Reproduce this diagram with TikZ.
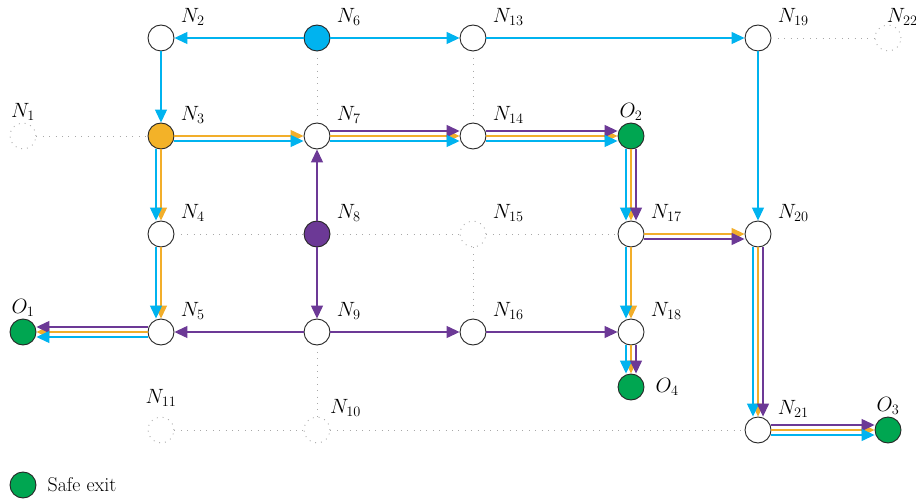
\documentclass[tikz,border=0pt]{standalone}
\usepackage{amsmath}
\usepackage{tikz}
\usetikzlibrary{calc,positioning,arrows.meta}
\definecolor{exitgreen}{HTML}{00A651}
\definecolor{flowcyan}{HTML}{00B3EF}
\definecolor{floworange}{HTML}{F2AE2A}
\definecolor{flowpurple}{HTML}{6C3996}
\definecolor{idlegray}{HTML}{A8A8A8}
\tikzset{
    >={Triangle[length=13bp,width=12bp]},
    font={\fontsize{20.74pt}{25}\selectfont},
    junction/.style={
        circle,
        draw=black!85, line width=0.9bp,
        fill=white,
        minimum size=26bp,
        inner sep=0pt
    },
    idle/.style={
        junction,
        draw=idlegray, fill=none,
        dash pattern=on 0.9bp off 5bp
    },
    safe/.style={junction, fill=exitgreen},
    nlabel/.style={label={[label distance=7bp, inner sep=2bp]30:#1}},
    olabel/.style={label={[inner sep=2bp]90:#1}},
    route/.style={draw=#1, line width=1.3bp, ->},
    cyanway/.style={route=flowcyan},
    orangeway/.style={route=floworange},
    purpleway/.style={route=flowpurple},
    idleway/.style={draw=idlegray, line width=0.9bp, dash pattern=on 0.9bp off 5.5bp},
    % side offsets for routes sharing a corridor
    offN/.style={transform canvas={yshift=5bp}},
    offS/.style={transform canvas={yshift=-5bp}},
    offE/.style={transform canvas={xshift=5bp}},
    offW/.style={transform canvas={xshift=-5bp}},
}
\begin{document}
\begin{tikzpicture}
    [
        x=1bp, y=-1bp,
        node distance=98bp and 156bp,
        on grid,
    ]
    \useasboundingbox (0,0) rectangle (916,499);

    % nodes, row by row
    \node[junction, nlabel=$N_{2}$] (N2) at (161,38) {};
    \node[junction, fill=flowcyan, nlabel=$N_{6}$] (N6) [right=of N2] {};
    \node[junction, nlabel=$N_{13}$] (N13) [right=of N6] {};
    \node[junction, nlabel=$N_{19}$] (N19) [right=285bp of N13] {};
    \node[idle, label={[label distance=7bp, inner sep=2bp, xshift=-21bp]30:$N_{22}$}] (N22) [right=130bp of N19] {};

    \node[junction, fill=floworange!95!yellow, nlabel=$N_{3}$] (N3) [below=of N2] {};
    \node[idle, olabel=$N_{1}$] (N1) [left=138bp of N3] {};
    \node[junction, nlabel=$N_{7}$] (N7) [below=of N6] {};
    \node[junction, nlabel=$N_{14}$] (N14) [below=of N13] {};
    \node[safe, olabel=$O_{2}$] (O2) [right=158bp of N14] {};

    \node[junction, nlabel=$N_{4}$] (N4) [below=of N3] {};
    \node[junction, fill=flowpurple, nlabel=$N_{8}$] (N8) [below=of N7] {};
    \node[idle, nlabel=$N_{15}$] (N15) [below=of N14] {};
    \node[junction, nlabel=$N_{17}$] (N17) [below=of O2] {};
    \node[junction, nlabel=$N_{20}$] (N20) [below=196bp of N19] {};

    \node[junction, nlabel=$N_{5}$] (N5) [below=of N4] {};
    \node[safe, olabel=$O_{1}$] (O1) [left=138bp of N5] {};
    \node[junction, nlabel=$N_{9}$] (N9) [below=of N8] {};
    \node[junction, nlabel=$N_{16}$] (N16) [below=of N15] {};
    \node[junction, nlabel=$N_{18}$] (N18) [below=of N17] {};
    \node[safe, label={[inner sep=2bp, label distance=9bp]0:$O_{4}$}] (O4) [below=55bp of N18] {};

    \node[idle, label={[label distance=8bp, inner sep=2bp]90:$N_{11}$}] (N11) [below=of N5] {};
    \node[idle, label={[label distance=2bp, inner sep=2bp]45:$N_{10}$}] (N10) [below=of N9] {};
    \node[junction, nlabel=$N_{21}$] (N21) [below=196bp of N20] {};
    \node[safe, olabel=$O_{3}$] (O3) [right=130bp of N21] {};

    % unused corridors
    \draw[idleway] (N1) -- (N3);
    \draw[idleway] (N6) -- (N7);
    \draw[idleway] (N13) -- (N14);
    \draw[idleway] (N19) -- (N22);
    \draw[idleway] (N4) -- (N8);
    \draw[idleway] (N8) -- (N15);
    \draw[idleway] (N15) -- (N17);
    \draw[idleway] (N15) -- (N16);
    \draw[idleway] (N9) -- (N10);
    \draw[idleway] (N11) -- (N10);
    \draw[idleway] (N10) -- (N21);

    % cyan route only
    \draw[cyanway] (N6) -- (N2);
    \draw[cyanway] (N6) -- (N13);
    \draw[cyanway] (N13) -- (N19);
    \draw[cyanway] (N2) -- (N3);
    \draw[cyanway] (N19) -- (N20);

    % purple route only
    \draw[purpleway] (N8) -- (N7);
    \draw[purpleway] (N8) -- (N9);
    \draw[purpleway] (N9) -- (N5);
    \draw[purpleway] (N9) -- (N16);
    \draw[purpleway] (N16) -- (N18);

    % shared corridors
    \draw[orangeway] (N3) -- (N7);
    \draw[cyanway, offS] (N3) -- (N7);

    \draw[orangeway] (N7) -- (N14);
    \draw[purpleway, offN] (N7) -- (N14);
    \draw[cyanway, offS] (N7) -- (N14);

    \draw[orangeway] (N14) -- (O2);
    \draw[purpleway, offN] (N14) -- (O2);
    \draw[cyanway, offS] (N14) -- (O2);

    \draw[orangeway] (N3) -- (N4);
    \draw[cyanway, offW] (N3) -- (N4);

    \draw[orangeway] (N4) -- (N5);
    \draw[cyanway, offW] (N4) -- (N5);

    \draw[orangeway] (N5) -- (O1);
    \draw[purpleway, offN] (N5) -- (O1);
    \draw[cyanway, offS] (N5) -- (O1);

    \draw[orangeway] (O2) -- (N17);
    \draw[cyanway, offW] (O2) -- (N17);
    \draw[purpleway, offE] (O2) -- (N17);

    \draw[orangeway] (N17) -- (N20);
    \draw[purpleway, offS] (N17) -- (N20);

    \draw[orangeway] (N17) -- (N18);
    \draw[cyanway, offW] (N17) -- (N18);

    \draw[orangeway] (N18) -- (O4);
    \draw[cyanway, offW] (N18) -- (O4);
    \draw[purpleway, offE] (N18) -- (O4);

    \draw[orangeway] (N20) -- (N21);
    \draw[cyanway, offW] (N20) -- (N21);
    \draw[purpleway, offE] (N20) -- (N21);

    \draw[orangeway] (N21) -- (O3);
    \draw[purpleway, offN] (N21) -- (O3);
    \draw[cyanway, offS] (N21) -- (O3);

    % legend
    \node[safe] (key) at (23,485) {};
    \node[on grid=false, right=9bp of key, inner sep=2bp, font={\fontsize{20pt}{24}\selectfont}] (keytext) {Safe exit};
\end{tikzpicture}
\end{document}
